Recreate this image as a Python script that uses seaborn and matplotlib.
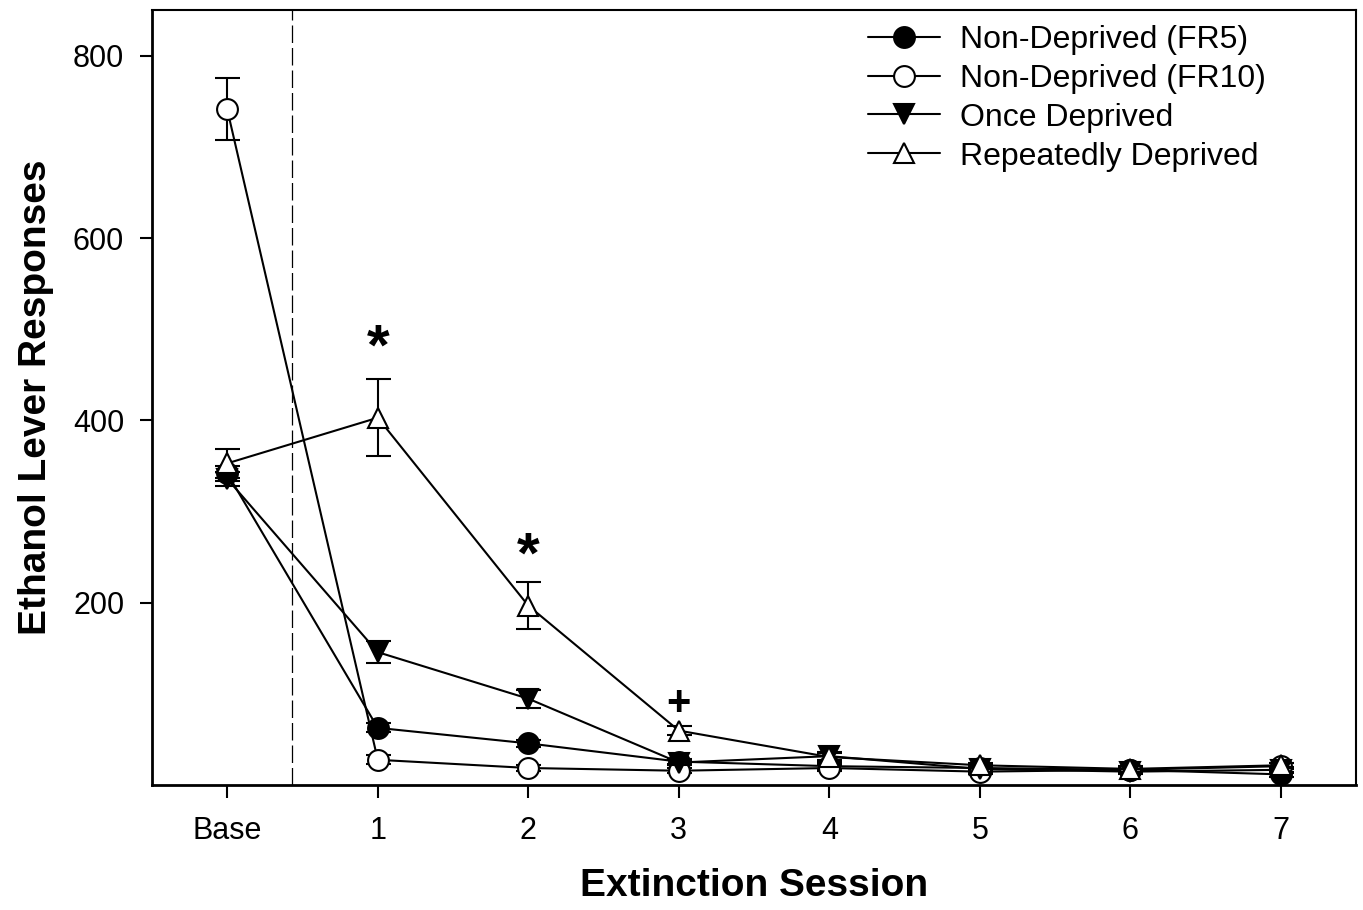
import numpy as np
import pandas as pd
import seaborn as sns
import matplotlib
matplotlib.use("Agg")
import matplotlib.pyplot as plt
from matplotlib.lines import Line2D

sessions = ["Base", "1", "2", "3", "4", "5", "6", "7"]

fr5_mean = [342, 63, 46, 26, 21, 19, 17, 12]
fr5_sem = [8, 5, 4, 3, 3, 3, 3, 3]
fr10_mean = [741, 28, 19, 16, 19, 15, 17, 21]
fr10_sem = [34, 5, 3, 3, 3, 3, 3, 3]
once_mean = [336, 146, 95, 25, 32, 18, 15, 17]
once_sem = [8, 12, 10, 3, 4, 3, 3, 3]
rep_mean = [353, 403, 197, 60, 31, 22, 18, 22]
rep_sem = [16, 42, 26, 5, 4, 3, 3, 3]

group_names = ["Non-Deprived (FR5)", "Non-Deprived (FR10)", "Once Deprived", "Repeatedly Deprived"]
group_markers = ["o", "o", "v", "^"]
group_fills = ["black", "white", "black", "white"]

# significance marks: (session, height, symbol)
sig_sessions = ["1", "2", "3"]
sig_heights = [478, 250, 89]
sig_symbols = ["*", "*", "+"]

means = [fr5_mean, fr10_mean, once_mean, rep_mean]
sems = [fr5_sem, fr10_sem, once_sem, rep_sem]

rows = []
for name, m, s in zip(group_names, means, sems):
    for i, sess in enumerate(sessions):
        rows.append({"Group": name, "pos": i, "Session": sess, "Mean": m[i], "SEM": s[i]})
df = pd.DataFrame(rows)

sns.set_theme(style="ticks")
plt.rcParams['font.family'] = ['Liberation Sans', 'DejaVu Sans']
for key in ["text.color", "axes.labelcolor", "xtick.color", "ytick.color", "axes.edgecolor"]:
    plt.rcParams[key] = "black"

fig = plt.figure(figsize=(13.63, 9.10), dpi=100)
ax = fig.add_axes([0.1115, 0.137, 0.8835, 0.852])

ax.axvline(0.43, color="black", lw=0.9, ls=(0, (14, 4)), zorder=1)

handles = []
for k, (name, mk, fc) in enumerate(zip(group_names, group_markers, group_fills)):
    sub = df[df["Group"] == name]
    ax.errorbar(sub["pos"], sub["Mean"], yerr=sub["SEM"], fmt="none", ecolor="black",
                elinewidth=1.5, capsize=9, capthick=1.5, zorder=2 + k)
    sns.lineplot(data=sub, x="pos", y="Mean", ax=ax, color="black", lw=1.5,
                 marker=mk, markersize=15, markerfacecolor=fc, markeredgecolor="black",
                 markeredgewidth=1.5, zorder=3 + k, legend=False)
    handles.append(Line2D([], [], color="black", lw=1.5, marker=mk, markersize=15,
                          markerfacecolor=fc, markeredgecolor="black", markeredgewidth=1.5))

for sess, h, sym in zip(sig_sessions, sig_heights, sig_symbols):
    ax.text(sessions.index(sess), h, sym, ha="center", va="center",
            fontsize=42 if sym == "*" else 30, fontweight="bold")

ax.set_xlim(-0.5, 7.5)
ax.set_ylim(0, 850)
ax.set_xticks(range(len(sessions)))
ax.set_xticklabels(sessions)
ax.set_yticks([200, 400, 600, 800])
ax.tick_params(axis="both", labelsize=22, length=9, width=1.5, direction="out", color="black")
ax.tick_params(axis="y", pad=11)
ax.tick_params(axis="x", pad=13)

for side in ["left", "bottom"]:
    ax.spines[side].set_linewidth(2)
for side in ["top", "right"]:
    ax.spines[side].set_linewidth(1.5)

ax.set_xlabel("Extinction Session", fontsize=28, fontweight="bold", labelpad=16)
ax.set_ylabel("Ethanol Lever Responses", fontsize=28, fontweight="bold", labelpad=14)

ax.legend(handles, group_names, loc="upper left", frameon=False, fontsize=23,
          handlelength=2.25, handletextpad=0.6, labelspacing=0.28,
          borderpad=0, borderaxespad=0, bbox_to_anchor=(0.595, 0.981))

fig.savefig("out.png", dpi=100)
